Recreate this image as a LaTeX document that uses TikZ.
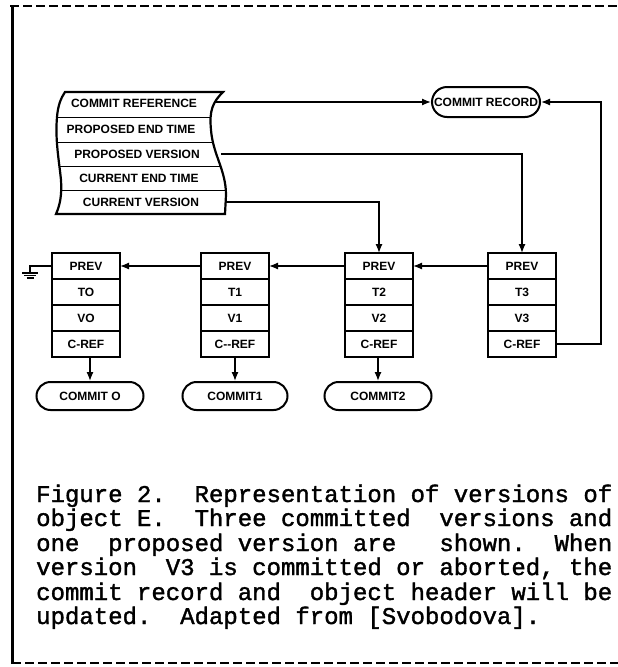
\documentclass[tikz,border=0pt]{standalone}
\usepackage{fontspec}
\usepackage{tikz}
\usetikzlibrary{positioning,arrows.meta}
\newfontfamily\labelfont{Liberation Sans}
\newfontfamily\capfont[FakeBold=1.5]{Liberation Mono}
\newcommand\hdrshape{(65,92) -- (223,92) .. controls (213,102) and (209,110) .. (211,130) .. controls (213,155) and (226,170) .. (226,195) -- (225,214) -- (56,214) .. controls (60,205) and (62,195) .. (61,180) .. controls (59,160) and (55,140) .. (57,117) .. controls (58,105) and (61,98) .. (65,92) -- cycle}

\begin{document}
\begin{tikzpicture}[x=1pt,y=-1pt,>={Latex[length=9pt,width=7pt]}]
\tikzstyle{every node}=[font=\labelfont\bfseries\fontsize{12}{14}\selectfont,inner sep=0pt]
\tikzstyle{field}=[draw,line width=1pt,minimum width=67pt,minimum height=25pt]
\tikzstyle{box}=[line width=2.2pt]
\tikzstyle{commit}=[draw,line width=2pt,rounded corners=14pt,minimum width=107pt,minimum height=28pt]
\tikzstyle{link}=[line width=1.3pt]
\tikzstyle{frame}=[line width=2.4pt,dash pattern=on 9pt off 4pt]
\tikzstyle{caption}=[anchor=base west,font=\capfont\frenchspacing\fontsize{24}{24}\selectfont]

\useasboundingbox (0,0) rectangle (618,667);
\draw[frame] (10,6) -- (618,6);
\draw[line width=3pt] (12,5) -- (12,664);
\draw[frame] (12,663) -- (618,663);

\begin{scope}
\clip \hdrshape;
\draw[line width=1pt] (40,117) -- (240,117) (40,142) -- (240,142) (40,166) -- (240,166) (40,190) -- (240,190);
\end{scope}
\draw[box] \hdrshape;
\node (cref) at (134,103) {COMMIT REFERENCE};
\node (pend) at (131,129) {PROPOSED END TIME};
\node (pver) at (137,154) {PROPOSED VERSION};
\node (cend) at (139,178) {CURRENT END TIME};
\node (cver) at (141,202) {CURRENT VERSION};
\coordinate (crefout) at (214,102);
\coordinate (pverout) at (221,154);
\coordinate (cverout) at (226,202);

\node[commit,rounded corners=15pt,minimum width=108pt,minimum height=30pt] (rec) at (486,102) {COMMIT RECORD};

\node[field] (p0) at (86,266) {PREV};
\node[field,below=0pt of p0] (t0) {TO};
\node[field,below=0pt of t0] (v0) {VO};
\node[field,below=0pt of v0] (c0) {C-REF};
\draw[box] (p0.north west) rectangle (c0.south east);

\node[field] (p1) at (235,266) {PREV};
\node[field,below=0pt of p1] (t1) {T1};
\node[field,below=0pt of t1] (v1) {V1};
\node[field,below=0pt of v1] (c1) {C--REF};
\draw[box] (p1.north west) rectangle (c1.south east);

\node[field] (p2) at (379,266) {PREV};
\node[field,below=0pt of p2] (t2) {T2};
\node[field,below=0pt of t2] (v2) {V2};
\node[field,below=0pt of v2] (c2) {C-REF};
\draw[box] (p2.north west) rectangle (c2.south east);

\node[field] (p3) at (522,266) {PREV};
\node[field,below=0pt of p3] (t3) {T3};
\node[field,below=0pt of t3] (v3) {V3};
\node[field,below=0pt of v3] (c3) {C-REF};
\draw[box] (p3.north west) rectangle (c3.south east);

\node[commit] (k0) at (90,396) {COMMIT O};
\node[commit,minimum width=105pt] (k1) at (235,396) {COMMIT1};
\node[commit] (k2) at (378,396) {COMMIT2};

\coordinate (turn) at (601,102);
\coordinate (gnd) at (30,273);
\draw[link,->] (crefout) -- (rec.west);
\draw[link,->] (pverout) -| (p3.north);
\draw[link,->] (cverout) -| (p2.north);
\draw[link,->] (c3.east) -| (turn) -- (rec.east);
\draw[link,->] (p3.west) -- (p2.east);
\draw[link,->] (p2.west) -- (p1.east);
\draw[link,->] (p1.west) -- (p0.east);
\draw[link] (p0.west) -| (gnd);
\draw[link] ([xshift=-8pt]gnd) -- ([xshift=8pt]gnd);
\draw[link] ([shift={(-6,2.5)}]gnd) -- ([shift={(6,2.5)}]gnd);
\draw[link] ([shift={(-3.5,5)}]gnd) -- ([shift={(3.5,5)}]gnd);
\draw[link,->] (c0.south -| k0.north) -- (k0.north);
\draw[link,->] (c1.south) -- (k1.north);
\draw[link,->] (c2.south -| k2.north) -- (k2.north);

\node[caption] (cap1) at (36,502) {Figure 2.\ \ Representation of versions of};
\node[caption] (cap2) at (36,526) {object E.\ \ Three committed\ \ versions and};
\node[caption] (cap3) at (36,551) {one\ \ proposed version are\ \ \ shown.\ \ When};
\node[caption] (cap4) at (36,575) {version\ \ V3 is committed or aborted, the};
\node[caption] (cap5) at (36,600) {commit record and\ \ object header will be};
\node[caption] (cap6) at (36,624) {updated.\ \ Adapted from [Svobodova].};
\end{tikzpicture}
\end{document}
